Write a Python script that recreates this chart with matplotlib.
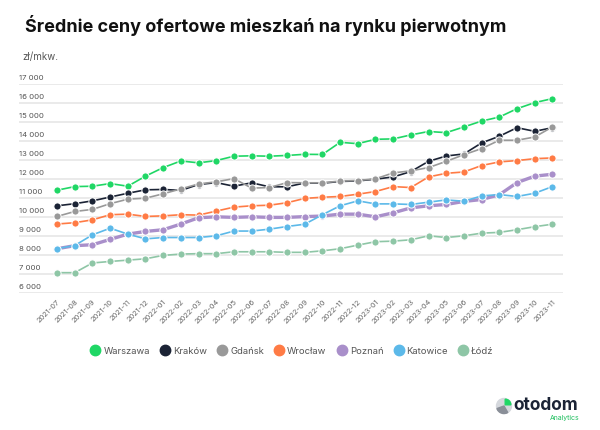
import matplotlib
matplotlib.use("Agg")
import matplotlib.pyplot as plt
from matplotlib.lines import Line2D
from matplotlib.patches import Wedge, Circle
import numpy as np

plt.rcParams['font.family'] = ['Inter', 'DejaVu Sans']

months = ['2021-07', '2021-08', '2021-09', '2021-10', '2021-11', '2021-12',
          '2022-01', '2022-02', '2022-03', '2022-04', '2022-05', '2022-06',
          '2022-07', '2022-08', '2022-09', '2022-10', '2022-11', '2022-12',
          '2023-01', '2023-02', '2023-03', '2023-04', '2023-05', '2023-06',
          '2023-07', '2023-08', '2023-09', '2023-10', '2023-11']

warszawa = [11410, 11600, 11620, 11760, 11620, 12150, 12600, 12950, 12850, 12970,
            13200, 13220, 13200, 13240, 13300, 13290, 13930, 13860, 14090, 14110,
            14320, 14500, 14440, 14740, 15050, 15260, 15700, 16020, 16230]
krakow = [10590, 10700, 10850, 11050, 11250, 11430, 11450, 11400, 11710, 11810,
          11620, 11800, 11590, 11590, 11790, 11780, 11870, 11900, 11990, 12110,
          12390, 12930, 13210, 13320, 13900, 14250, 14700, 14510, 14700]
gdansk = [10030, 10290, 10400, 10700, 10940, 10990, 11220, 11480, 11740, 11850,
          12020, 11520, 11550, 11810, 11800, 11800, 11890, 11920, 12010, 12320,
          12430, 12600, 12930, 13280, 13600, 14040, 14040, 14210, 14740]
wroclaw = [9630, 9700, 9850, 10120, 10150, 10030, 10060, 10120, 10100, 10310,
           10520, 10590, 10620, 10750, 10980, 11040, 11080, 11200, 11340, 11600,
           11550, 12110, 12300, 12370, 12710, 12900, 12970, 13070, 13110]
poznan = [8330, 8490, 8540, 8820, 9100, 9240, 9330, 9630, 9960, 10010,
          9980, 10010, 9980, 9980, 10020, 10050, 10150, 10150, 10010, 10220,
          10480, 10590, 10660, 10820, 10920, 11170, 11810, 12150, 12250]
katowice = [8330, 8500, 9060, 9410, 9100, 8850, 8920, 8920, 8920, 9010,
            9260, 9260, 9360, 9500, 9620, 10120, 10590, 10850, 10690, 10690,
            10660, 10780, 10900, 10830, 11110, 11180, 11080, 11250, 11600]
lodz = [7070, 7070, 7580, 7660, 7730, 7800, 7980, 8050, 8070, 8070,
        8170, 8170, 8170, 8140, 8140, 8220, 8330, 8520, 8700, 8730,
        8800, 9010, 8920, 9010, 9150, 9190, 9330, 9490, 9620]

cities = ['Warszawa', 'Kraków', 'Gdańsk', 'Wrocław', 'Poznań', 'Katowice', 'Łódź']
series = [warszawa, krakow, gdansk, wroclaw, poznan, katowice, lodz]
colors = ['#1fd765', '#1b2335', '#999999', '#ff7b45', '#a98fca', '#5cb9e9', '#8ec6a6']
widths = [1.2, 1.2, 1.2, 1.2, 2.4, 1.2, 1.2]

yticks = list(range(6000, 17001, 1000))

fig = plt.figure(figsize=(6, 4.3), dpi=100)
ax = fig.add_axes([19 / 600, 137 / 430, 544 / 600, 209 / 430])

x = np.arange(len(months))
for name, vals, c, lw in zip(cities, series, colors, widths):
    ax.plot(x, vals, color=c, lw=lw, marker='o', markersize=5.2,
            markeredgecolor='white', markeredgewidth=0.7, label=name)

ax.set_ylim(6000, 17000)
ax.set_xlim(-2.15, 28.6)
for v in yticks:
    ax.axhline(v, color='#e8e8e8', lw=1.3, zorder=0)
    ax.annotate(f'{v // 1000} 000', xy=(0, v), xycoords=('axes fraction', 'data'),
                xytext=(0, 2), textcoords='offset points', fontsize=5.6,
                color='#555555', va='bottom', ha='left')
ax.set_yticks([])
ax.set_xticks(x)
ax.set_xticklabels(months, rotation=45, ha='right', rotation_mode='anchor',
                   fontsize=5.4, color='#666666')
ax.tick_params(axis='x', length=0, pad=4)
for s in ax.spines.values():
    s.set_visible(False)

fig.text(25 / 600, 1 - 26 / 430, 'Średnie ceny ofertowe mieszkań na rynku pierwotnym',
         fontsize=13, fontweight='bold', color='#111111', va='center', ha='left')
fig.text(22 / 600, 1 - 57 / 430, 'zł/mkw.', fontsize=7, color='#555555',
         va='center', ha='left')

handles = [Line2D([], [], ls='', marker='o', markersize=7.5, color=c) for c in colors]
fig.legend(handles, cities, loc='center', bbox_to_anchor=(0.487, 1 - 351 / 430),
           ncol=7, frameon=False, fontsize=6.8, labelcolor='#555555',
           handletextpad=0.35, columnspacing=1.1, handlelength=1.0)

# logo
lx, ly, r = 504 / 600, 1 - 406 / 430, 7.5
ax_logo = fig.add_axes([lx - 10 / 600, ly - 10 / 430, 20 / 600, 20 / 430])
ax_logo.set_xlim(-10, 10)
ax_logo.set_ylim(-10, 10)
ax_logo.set_aspect('equal')
ax_logo.axis('off')
ax_logo.add_patch(Circle((0, 0), r, color='#d5d8dd'))
ax_logo.add_patch(Wedge((0, 0), r, 200, 300, color='#8a8f98'))
ax_logo.add_patch(Wedge((1.2, 1.2), r * 0.75, 0, 90, color='#1fd765'))
fig.text(513 / 600, 1 - 406 / 430, 'otodom', fontsize=12.5, fontweight='bold',
         color='#1b2335', va='center', ha='left')
fig.text(579 / 600, 1 - 418 / 430, 'Analytics', fontsize=5, color='#1fbf5e',
         va='center', ha='right')

fig.savefig('out.png', dpi=100, facecolor='white')
